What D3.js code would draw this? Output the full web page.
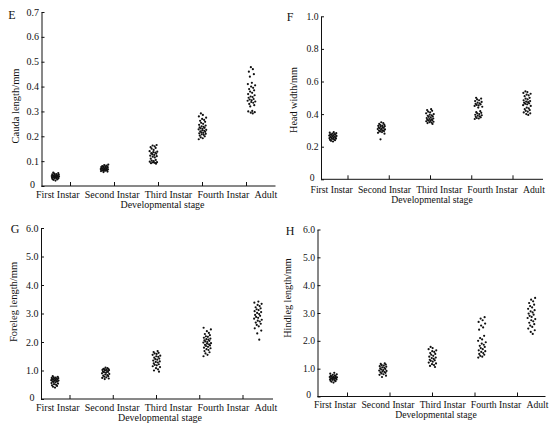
<!DOCTYPE html>
<html>
<head>
<meta charset="utf-8">
<script src="https://cdn.jsdelivr.net/npm/d3@7"></script>
<style>
body { margin: 0; background: #fff; }
svg text { font-family: "Liberation Serif", "Times New Roman", serif; fill: #111; }
</style>
</head>
<body>
<div id="chart"></div>
<script>
var width = 550;
var height = 427;

var stages = ["First Instar", "Second Instar", "Third Instar", "Fourth Instar", "Adult"];

// valeurs, une liste par stade
var caudaLength = [
    [0.022,0.025,0.027,0.028,0.030,0.031,0.032,0.033,0.034,0.035,0.035,0.036,0.037,0.038,0.039,0.040,0.040,0.041,0.042,0.043,0.044,0.045,0.046,0.047,0.048,0.050,0.052,0.054],
    [0.056,0.058,0.060,0.061,0.062,0.063,0.064,0.065,0.066,0.067,0.068,0.069,0.070,0.071,0.072,0.073,0.074,0.075,0.076,0.077,0.078,0.079,0.080,0.082,0.084,0.086],
    [0.090,0.092,0.093,0.095,0.096,0.098,0.100,0.102,0.105,0.110,0.115,0.118,0.120,0.122,0.125,0.128,0.130,0.132,0.134,0.136,0.138,0.140,0.145,0.150,0.153,0.156,0.160,0.163,0.165],
    [0.188,0.192,0.196,0.200,0.203,0.206,0.208,0.210,0.212,0.214,0.216,0.218,0.220,0.222,0.224,0.226,0.228,0.230,0.232,0.234,0.236,0.238,0.240,0.243,0.246,0.250,0.254,0.258,0.262,0.266,0.270,0.275,0.280,0.286,0.292],
    [0.292,0.295,0.297,0.300,0.302,0.320,0.325,0.330,0.335,0.338,0.340,0.343,0.345,0.348,0.350,0.355,0.358,0.360,0.365,0.370,0.375,0.380,0.385,0.390,0.395,0.400,0.405,0.410,0.415,0.440,0.450,0.460,0.470,0.478]
];
var headWidth = [
    [0.232,0.236,0.240,0.242,0.245,0.248,0.250,0.252,0.254,0.256,0.258,0.260,0.262,0.264,0.266,0.268,0.270,0.272,0.274,0.276,0.278,0.280,0.283,0.286,0.289],
    [0.245,0.280,0.285,0.290,0.293,0.296,0.298,0.300,0.303,0.306,0.308,0.310,0.313,0.316,0.318,0.320,0.323,0.326,0.328,0.330,0.333,0.336,0.340,0.345,0.350],
    [0.340,0.345,0.348,0.350,0.353,0.356,0.358,0.360,0.363,0.366,0.368,0.370,0.373,0.376,0.380,0.383,0.386,0.390,0.393,0.396,0.400,0.405,0.410,0.415,0.420,0.425,0.430],
    [0.370,0.373,0.376,0.380,0.383,0.386,0.390,0.393,0.396,0.400,0.404,0.408,0.412,0.418,0.440,0.445,0.450,0.453,0.456,0.460,0.463,0.466,0.470,0.475,0.480,0.485,0.490,0.495,0.500],
    [0.395,0.400,0.405,0.410,0.415,0.420,0.425,0.430,0.435,0.440,0.450,0.455,0.460,0.463,0.466,0.470,0.473,0.476,0.480,0.485,0.490,0.495,0.500,0.510,0.515,0.520,0.525,0.530,0.535,0.540]
];
var forelegLength = [
    [0.40,0.43,0.46,0.48,0.50,0.52,0.54,0.56,0.58,0.60,0.61,0.62,0.63,0.64,0.65,0.66,0.67,0.68,0.69,0.70,0.71,0.72,0.73,0.74,0.75,0.76,0.78,0.80],
    [0.70,0.72,0.74,0.76,0.78,0.80,0.82,0.84,0.86,0.88,0.90,0.92,0.94,0.95,0.96,0.98,1.00,1.01,1.02,1.03,1.04,1.05,1.06,1.08,1.10],
    [0.96,1.00,1.04,1.08,1.12,1.15,1.18,1.20,1.22,1.25,1.28,1.30,1.32,1.35,1.38,1.40,1.42,1.45,1.48,1.50,1.52,1.55,1.58,1.60,1.62,1.65,1.68],
    [1.50,1.55,1.60,1.64,1.68,1.72,1.75,1.78,1.80,1.83,1.86,1.88,1.90,1.92,1.94,1.96,1.98,2.00,2.02,2.04,2.06,2.08,2.10,2.12,2.15,2.18,2.20,2.24,2.28,2.32,2.38,2.44,2.50],
    [2.08,2.30,2.40,2.48,2.55,2.60,2.64,2.68,2.72,2.75,2.78,2.82,2.85,2.88,2.92,2.95,2.98,3.02,3.05,3.08,3.12,3.15,3.18,3.22,3.26,3.30,3.34,3.38,3.42]
];
var hindlegLength = [
    [0.50,0.53,0.55,0.57,0.58,0.60,0.61,0.62,0.63,0.64,0.65,0.66,0.67,0.68,0.69,0.70,0.71,0.72,0.73,0.74,0.76,0.78,0.80,0.82,0.85],
    [0.70,0.75,0.78,0.80,0.83,0.85,0.87,0.88,0.90,0.92,0.93,0.95,0.97,0.99,1.01,1.03,1.05,1.07,1.09,1.11,1.13,1.15,1.17,1.19],
    [1.06,1.10,1.13,1.16,1.19,1.22,1.25,1.28,1.30,1.32,1.35,1.38,1.40,1.43,1.46,1.50,1.53,1.56,1.60,1.63,1.66,1.70,1.74,1.78],
    [1.40,1.43,1.46,1.50,1.53,1.56,1.60,1.63,1.66,1.70,1.74,1.78,1.82,1.86,1.90,1.95,2.00,2.05,2.10,2.18,2.40,2.48,2.55,2.62,2.68,2.74,2.80,2.85],
    [2.25,2.32,2.38,2.44,2.50,2.55,2.60,2.65,2.70,2.74,2.78,2.82,2.86,2.90,2.94,2.98,3.02,3.06,3.10,3.15,3.20,3.25,3.30,3.36,3.42,3.48,3.54]
];

var caudaTicks = [0, 0.1, 0.2, 0.3, 0.4, 0.5, 0.6, 0.7];
var headTicks = [0, 0.2, 0.4, 0.6, 0.8, 1.0];
var legTicks = [0, 1, 2, 3, 4, 5, 6];

// mise en page de chaque panneau (origine des axes, longueurs, positions des textes)
var panels = [
    { letter: "E", title: "Cauda length/mm", values: caudaLength, ticks: caudaTicks, fs: 10,
      x0: 41.5, y0: 186, h: 174, len: 234, dots: [14, 210], marks: [29, 205],
      labelStart: -5.5, labelDy: 11.5, stageDy: 21.5, stageX: 121,
      letterPos: [12, 19], titleX: -23, titleY: 106 },
    { letter: "F", title: "Head width/mm", values: headWidth, ticks: headTicks, fs: 9.7,
      x0: 321, y0: 179.3, h: 163, len: 222, dots: [12, 206], marks: [27, 192],
      labelStart: -10.5, labelDy: 14, stageDy: 24, stageX: 111,
      letterPos: [290, 21], titleX: -24.5, titleY: 100 },
    { letter: "G", title: "Foreleg length/mm", values: forelegLength, ticks: legTicks, fs: 10,
      x0: 41, y0: 399, h: 171, len: 232, dots: [14, 217], marks: [29, 202],
      labelStart: -5, labelDy: 11.5, stageDy: 21.5, stageX: 119,
      letterPos: [15, 233], titleX: -24.5, titleY: 302 },
    { letter: "H", title: "Hindleg length/mm", values: hindlegLength, ticks: legTicks, fs: 9.7,
      x0: 317.5, y0: 396.5, h: 167, len: 228, dots: [16, 214], marks: [30, 200],
      labelStart: -3.5, labelDy: 11.5, stageDy: 21.5, stageX: 118.5,
      letterPos: [290, 235], titleX: -27, titleY: 298 }
];

var svg = d3.select("#chart")
    .append("svg")
    .attr("width", width)
    .attr("height", height);

function tickFormat(d) {
    return d === 0 ? "0" : d3.format(".1f")(d);
}

// décalage horizontal déterministe (suite de van der Corput en base 2)
function spread(n) {
    var r = 0, f = 0.5;
    while (n > 0) {
        r += f * (n % 2);
        n = Math.floor(n / 2);
        f /= 2;
    }
    return r;
}

function drawPanel(p) {

    var g = svg.append("g")
        .attr("transform", `translate(${p.x0},${p.y0})`);

    var y = d3.scaleLinear()
        .domain([0, d3.max(p.ticks)])
        .range([0, -p.h]);

    var xDots = d3.scalePoint()
        .domain(stages)
        .range(p.dots);

    var xMarks = d3.scaleLinear()
        .domain([0, stages.length - 1])
        .range(p.marks);

    // axe Y : petites graduations vers l'intérieur
    var yAxis = g.append("g")
        .call(d3.axisRight(y)
            .tickValues(p.ticks)
            .tickSize(3)
            .tickSizeOuter(0)
            .tickFormat(""));
    yAxis.selectAll("path, line").attr("stroke", "#111");

    g.append("g")
        .selectAll("text")
        .data(p.ticks)
        .enter()
        .append("text")
        .attr("x", d => d === 0 ? -6.5 : -2.5)
        .attr("y", d => y(d) + (d === 0 ? 1.5 : 3.5))
        .attr("text-anchor", "end")
        .style("font-size", p.fs + "px")
        .text(tickFormat);

    // axe X : graduations vers le haut, entre les groupes
    g.append("line")
        .attr("x1", 0)
        .attr("x2", p.len)
        .attr("y1", 0)
        .attr("y2", 0)
        .attr("stroke", "#111");

    g.append("g")
        .selectAll("line")
        .data(d3.range(stages.length))
        .enter()
        .append("line")
        .attr("x1", d => xMarks(d))
        .attr("x2", d => xMarks(d))
        .attr("y1", 0)
        .attr("y2", -4)
        .attr("stroke", "#111");

    // libellés des stades posés à la suite, comme sur la figure
    var cursor = p.labelStart;
    g.append("g")
        .selectAll("text")
        .data(stages)
        .enter()
        .append("text")
        .attr("y", p.labelDy)
        .style("font-size", p.fs + "px")
        .text(d => d)
        .each(function () {
            d3.select(this).attr("x", cursor);
            cursor += this.getComputedTextLength() + 5.2;
        });

    g.append("text")
        .attr("x", p.stageX)
        .attr("y", p.stageDy)
        .attr("text-anchor", "middle")
        .style("font-size", p.fs + "px")
        .text("Developmental stage");

    // titre de l'axe Y
    svg.append("text")
        .attr("transform", `translate(${p.x0 + p.titleX},${p.titleY}) rotate(-90)`)
        .attr("text-anchor", "middle")
        .style("font-size", (p.fs + 0.5) + "px")
        .text(p.title);

    svg.append("text")
        .attr("x", p.letterPos[0])
        .attr("y", p.letterPos[1])
        .attr("text-anchor", "middle")
        .style("font-size", "12px")
        .text(p.letter);

    // nuage de points
    stages.forEach(function (stage, k) {
        g.append("g")
            .attr("fill", "#111")
            .selectAll("circle")
            .data(p.values[k])
            .enter()
            .append("circle")
            .attr("cx", (d, i) => xDots(stage) + (spread(i + 1 + k * 5) - 0.5) * 8)
            .attr("cy", d => y(d))
            .attr("r", 1.1);
    });
}

panels.forEach(drawPanel);
</script>
</body>
</html>
